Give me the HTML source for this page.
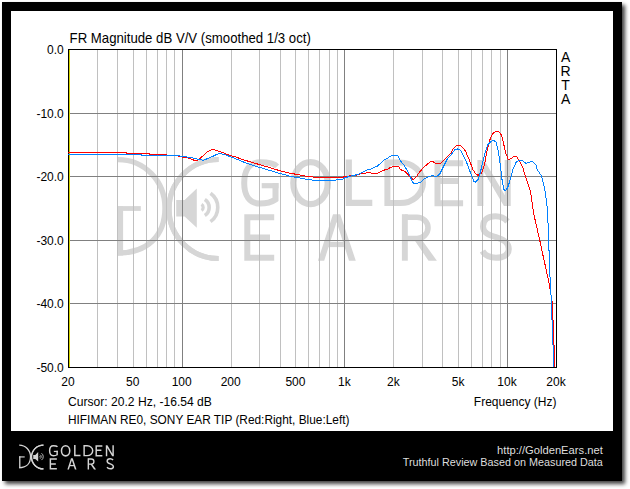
<!DOCTYPE html>
<html><head><meta charset="utf-8"><style>
html,body{margin:0;padding:0;background:#fff;width:630px;height:489px;overflow:hidden}
#frame{position:absolute;left:2px;top:2px;width:620px;height:479px;background:#000;box-shadow:3px 3px 4px rgba(0,0,0,0.75)}
svg{position:absolute;left:0;top:0}
text{font-family:"Liberation Sans",sans-serif}
</style></head><body>
<div id="frame"></div>
<svg width="630" height="489" viewBox="0 0 630 489">
<rect x="11" y="11" width="602" height="420" fill="#fff"/>
<g fill="#d6d6d6" stroke="#d6d6d6">
<g fill="none" stroke-linejoin="miter">
 <path d="M118,159.6 C144.5,159.6 165,181 165,208 C165,236 147,253 118,253" stroke-width="5.4"/>
 <path d="M218.6,159.5 A49.6,49.5 0 0 0 218.6,258.5" stroke-width="5.2"/>
 <path d="M218.6,159.5 A49.6,49.5 0 0 0 218.6,258.5" stroke-width="5.2"/>
 <path d="M383,240 L424,240" stroke-width="0"/>
 <path d="M201.5,204.4 A3.5,3.5 0 0 1 201.5,210.4" stroke-width="3.2"/>
 <path d="M204.8,199.6 A9.5,9.5 0 0 1 204.8,215.6" stroke-width="3.6"/>
 <path d="M210.5,193.2 A17.5,17.5 0 0 1 210.5,221.6" stroke-width="3.6"/>
 <path d="M277,166.5 C273.5,163 267,162.3 260,162.3 C249.5,162.3 244.2,170.5 244.2,183 C244.2,195.5 249.5,203.5 260,203.5 C266,203.5 271,202.5 275.5,199.5 L275.5,183" stroke-width="6"/>
 <path d="M261.7,185.7 L278.5,185.7" stroke-width="5.2"/>
 <ellipse cx="310.6" cy="183.1" rx="17.2" ry="21" stroke-width="6.4"/>
 <path d="M348.8,159.5 L348.8,202.8 L372.3,202.8" stroke-width="6.2"/>
 <path d="M387.4,162.5 L400,162.5 A23,20.3 0 0 1 400,203.1 L387.4,203.1 Z" stroke-width="6"/>
 <path d="M463.1,163.3 L437.5,163.3 L437.5,203.3 L463.1,203.3 M437.5,181 L459,181" stroke-width="6"/>
 <path d="M247.3,214.3 L247.3,257.7 M244.3,217.3 L274.2,217.3 M244.3,237.5 L270,237.5 M244.3,257.7 L274.2,257.7" stroke-width="6"/>
 <path d="M404.8,217.2 L417,217.2 A11,10.65 0 0 1 417,238.5 L404.8,238.5" stroke-width="5.6"/>
 <path d="M507.5,221.5 C504,217.5 500,216.3 495.5,216.3 C488,216.3 483,220 483,226.5 C483,233 489,235 496,237.2 C503,239.5 508.8,242 508.8,249 C508.8,255 503.5,257.7 496,257.7 C489,257.7 485,255.5 482.5,251" stroke-width="6"/>
</g>
<g stroke="none">
 <rect x="117.7" y="206.1" width="5.4" height="49.4"/>
 <rect x="117.7" y="206.1" width="23.1" height="4.8"/>
 <path d="M176.2,200 L184.6,200 L196.8,188.4 L196.8,227.8 L184.6,216.6 L176.2,216.6 Z"/>
 <path d="M477.4,206 L477.4,160 L484.2,160 L504.7,195 L504.7,160 L510.7,160 L510.7,206 L503.9,206 L483.4,171 L483.4,206 Z"/>
 <path d="M317.9,260.7 L333,214.2 L340.2,214.2 L355.8,260.7 L349,260.7 L336.6,222 L324.2,260.7 Z"/>
 <rect x="326" y="241.8" width="21.5" height="5.3"/>
 <rect x="401.9" y="214.2" width="5.9" height="46.5"/>
 <path d="M413,238 L420.5,238 L436.9,260.7 L428.5,260.7 Z"/>
</g>
</g>
<g shape-rendering="crispEdges">
<rect x="97" y="50" width="1" height="317" fill="#c0c0c0"/>
<rect x="117" y="50" width="1" height="317" fill="#c0c0c0"/>
<rect x="133" y="50" width="1" height="317" fill="#c0c0c0"/>
<rect x="146" y="50" width="1" height="317" fill="#c0c0c0"/>
<rect x="157" y="50" width="1" height="317" fill="#c0c0c0"/>
<rect x="166" y="50" width="1" height="317" fill="#c0c0c0"/>
<rect x="174" y="50" width="1" height="317" fill="#c0c0c0"/>
<rect x="231" y="50" width="1" height="317" fill="#c0c0c0"/>
<rect x="259" y="50" width="1" height="317" fill="#c0c0c0"/>
<rect x="280" y="50" width="1" height="317" fill="#c0c0c0"/>
<rect x="295" y="50" width="1" height="317" fill="#c0c0c0"/>
<rect x="308" y="50" width="1" height="317" fill="#c0c0c0"/>
<rect x="319" y="50" width="1" height="317" fill="#c0c0c0"/>
<rect x="329" y="50" width="1" height="317" fill="#c0c0c0"/>
<rect x="337" y="50" width="1" height="317" fill="#c0c0c0"/>
<rect x="393" y="50" width="1" height="317" fill="#c0c0c0"/>
<rect x="422" y="50" width="1" height="317" fill="#c0c0c0"/>
<rect x="442" y="50" width="1" height="317" fill="#c0c0c0"/>
<rect x="458" y="50" width="1" height="317" fill="#c0c0c0"/>
<rect x="471" y="50" width="1" height="317" fill="#c0c0c0"/>
<rect x="482" y="50" width="1" height="317" fill="#c0c0c0"/>
<rect x="491" y="50" width="1" height="317" fill="#c0c0c0"/>
<rect x="500" y="50" width="1" height="317" fill="#c0c0c0"/>
<rect x="182" y="50" width="1" height="317" fill="#808080"/>
<rect x="344" y="50" width="1" height="317" fill="#808080"/>
<rect x="507" y="50" width="1" height="317" fill="#808080"/>
<rect x="69" y="113" width="487" height="1" fill="#808080"/>
<rect x="69" y="176" width="487" height="1" fill="#808080"/>
<rect x="69" y="240" width="487" height="1" fill="#808080"/>
<rect x="69" y="303" width="487" height="1" fill="#808080"/>
<rect x="68" y="49" width="489" height="1" fill="#000"/>
<rect x="68" y="367" width="489" height="1" fill="#000"/>
<rect x="68" y="49" width="1" height="319" fill="#000"/>
<rect x="556" y="49" width="1" height="319" fill="#000"/>
</g>
<rect x="69" y="50" width="1" height="317" fill="#d4d400" shape-rendering="crispEdges"/>
<polyline points="68,152.5 126,152.5 126,153.5 149,153.5 149,154.5 166,154.5 166,155.5 178,155.5 178,156.5 184.5,157.3 189.3,158.3 194,160.2 197.4,160.2 199.3,159 202.6,156.2 207.4,151.9 209.8,150.3 213.1,149.5 216,150.3 219.8,151.6 224.5,153.3 229.3,155.2 235,156.8 246.1,160.6 257.2,163.9 268.3,167.2 279.4,170.6 290.6,173.3 301.7,175.3 307,176.4 316,177.3 343,177.3 344,176.4 349,176.4 350,175.4 355.5,175.4 358.3,174.5 361.6,173.2 365.3,173.2 367.4,172.4 370.6,172.4 371.9,173.5 377.2,173.5 379.6,172.4 382.9,170.4 387,169.4 390.7,167.3 393.6,166.4 398.5,166.4 400.5,169.5 402.6,170.5 405.1,171.7 409.2,175.8 413.3,180 416.1,177.2 418.4,173.5 423.4,167.5 426.2,165.2 429.9,162 432.6,161.4 435.4,163.4 440.9,163.1 444.6,159.4 450.7,153.3 453.2,149 456.2,145.7 460.5,145.3 465.4,150.9 469.1,159.4 472.8,169.3 475.3,173.6 478,175.4 481.7,173 484.8,163.1 487.2,149.6 490.3,138.5 492.7,133.6 496.4,131.1 499.6,132.2 501.7,135.8 503.9,145.1 506,153.7 508.2,159.4 511.1,158.7 513.9,156.3 516.8,156.8 519.7,161.6 522.5,166.6 525.4,176.6 528.3,185.2 530.7,192.4 533.5,212.9 539.7,240 543.4,257.2 546.4,270.7 549.5,285.5 552,301 553,320 554,345 555,367" fill="none" stroke="#ff0000" stroke-width="1" shape-rendering="crispEdges"/>
<polyline points="68,154.5 141,154.5 141,155.5 179.6,155.5 180.7,156.4 187.4,157 192.1,157.9 196.9,159 199.8,159.8 203.6,160.2 207.4,158.6 213.1,156.2 218.8,153.5 221.7,153.8 226.4,155.2 231.2,157.1 235,158.5 246.1,163.1 257.2,166.7 268.3,170 279.4,173.3 290.6,176.4 301.7,178.3 305,179 311.7,179.5 312.6,180.5 335.5,180.5 336.4,179.5 342.1,179.5 345,177.6 348.8,176.7 352.6,175.7 356.4,174.8 360.2,173.5 364.9,171.3 367.8,169.4 370.6,169.2 373.9,167.3 377.2,166.4 384.5,159.6 387.8,158.1 391.5,155.5 397.6,155.2 400.5,161 404.6,165.9 409.2,174.4 412.9,182.7 414.3,183.4 417.5,183.4 421.1,181.8 424.4,178.6 428.5,176.7 432.2,175.8 436.8,176.4 439.7,174.2 443.4,166.8 447,159.4 450.7,155.2 455,149.6 457.5,149 460.5,150.2 464.2,157 467.9,165.6 471.6,176 474,181.5 475.5,182.2 478.6,179.1 481.7,166.8 484.8,153.3 487.8,144.7 490.3,142.2 493.4,140.4 495.8,141.6 498.2,150.8 500.3,165.1 502,179.5 503.9,189.5 505.3,190.7 507.5,188.1 510.3,179.5 513.2,168.7 516.1,162.3 518.9,160.1 522.5,160.8 526.1,163.4 530.4,162 532.6,161.6 536,164.9 536.9,169.1 541.3,175.8 544.7,188.2 547,206.2 548.1,224.2 548.7,240 549.5,266.4 550.7,291.6 551.6,300 552,320 553,345 554,367" fill="none" stroke="#0080ff" stroke-width="1" shape-rendering="crispEdges"/>
<g fill="#000" font-size="14" transform="scale(0.943,1)">
<text x="73.81" y="43">FR Magnitude dB V/V (smoothed 1/3 oct)</text>
</g>
<g fill="#000" font-size="14" text-anchor="middle">
<text x="565.6" y="62">A</text><text x="565.6" y="76">R</text><text x="565.6" y="90">T</text><text x="565.6" y="104">A</text>
</g>
<g fill="#000" font-size="12" text-anchor="end">
<text x="63.8" y="54">0.0</text>
<text x="63.8" y="118">-10.0</text>
<text x="63.8" y="181">-20.0</text>
<text x="63.8" y="245">-30.0</text>
<text x="63.8" y="308">-40.0</text>
<text x="63.8" y="372">-50.0</text>
</g>
<g fill="#000" font-size="12" text-anchor="middle">
<text x="68" y="386">20</text>
<text x="132.7" y="386">50</text>
<text x="181.7" y="386">100</text>
<text x="230.7" y="386">200</text>
<text x="295.4" y="386">500</text>
<text x="344.4" y="386">1k</text>
<text x="393.3" y="386">2k</text>
<text x="458.1" y="386">5k</text>
<text x="507.0" y="386">10k</text>
<text x="556" y="386">20k</text>
</g>
<g fill="#000" font-size="12">
<text x="68" y="406" font-size="12.1">Cursor: 20.2 Hz, -16.54 dB</text>
<text x="68" y="424" font-size="11.86">HIFIMAN RE0, SONY EAR TIP (Red:Right, Blue:Left)</text>
<text x="556.5" y="405.6" text-anchor="end">Frequency (Hz)</text>
</g>
<g fill="#d4d4d4" stroke="#d4d4d4" transform="translate(19.2,456.4) scale(0.241) translate(-118,-206.3)">
<g fill="none" stroke-linejoin="miter">
 <path d="M118,159.6 C144.5,159.6 165,181 165,208 C165,236 147,253 118,253" stroke-width="5.4"/>
 <path d="M218.6,159.5 A49.6,49.5 0 0 0 218.6,258.5" stroke-width="5.2"/>
 <path d="M218.6,159.5 A49.6,49.5 0 0 0 218.6,258.5" stroke-width="5.2"/>
 <path d="M383,240 L424,240" stroke-width="0"/>
 <path d="M201.5,204.4 A3.5,3.5 0 0 1 201.5,210.4" stroke-width="3.2"/>
 <path d="M204.8,199.6 A9.5,9.5 0 0 1 204.8,215.6" stroke-width="3.6"/>
 <path d="M210.5,193.2 A17.5,17.5 0 0 1 210.5,221.6" stroke-width="3.6"/>
 <path d="M277,166.5 C273.5,163 267,162.3 260,162.3 C249.5,162.3 244.2,170.5 244.2,183 C244.2,195.5 249.5,203.5 260,203.5 C266,203.5 271,202.5 275.5,199.5 L275.5,183" stroke-width="6"/>
 <path d="M261.7,185.7 L278.5,185.7" stroke-width="5.2"/>
 <ellipse cx="310.6" cy="183.1" rx="17.2" ry="21" stroke-width="6.4"/>
 <path d="M348.8,159.5 L348.8,202.8 L372.3,202.8" stroke-width="6.2"/>
 <path d="M387.4,162.5 L400,162.5 A23,20.3 0 0 1 400,203.1 L387.4,203.1 Z" stroke-width="6"/>
 <path d="M463.1,163.3 L437.5,163.3 L437.5,203.3 L463.1,203.3 M437.5,181 L459,181" stroke-width="6"/>
 <path d="M247.3,214.3 L247.3,257.7 M244.3,217.3 L274.2,217.3 M244.3,237.5 L270,237.5 M244.3,257.7 L274.2,257.7" stroke-width="6"/>
 <path d="M404.8,217.2 L417,217.2 A11,10.65 0 0 1 417,238.5 L404.8,238.5" stroke-width="5.6"/>
 <path d="M507.5,221.5 C504,217.5 500,216.3 495.5,216.3 C488,216.3 483,220 483,226.5 C483,233 489,235 496,237.2 C503,239.5 508.8,242 508.8,249 C508.8,255 503.5,257.7 496,257.7 C489,257.7 485,255.5 482.5,251" stroke-width="6"/>
</g>
<g stroke="none">
 <rect x="117.7" y="206.1" width="5.4" height="49.4"/>
 <rect x="117.7" y="206.1" width="23.1" height="4.8"/>
 <path d="M176.2,200 L184.6,200 L196.8,188.4 L196.8,227.8 L184.6,216.6 L176.2,216.6 Z"/>
 <path d="M477.4,206 L477.4,160 L484.2,160 L504.7,195 L504.7,160 L510.7,160 L510.7,206 L503.9,206 L483.4,171 L483.4,206 Z"/>
 <path d="M317.9,260.7 L333,214.2 L340.2,214.2 L355.8,260.7 L349,260.7 L336.6,222 L324.2,260.7 Z"/>
 <rect x="326" y="241.8" width="21.5" height="5.3"/>
 <rect x="401.9" y="214.2" width="5.9" height="46.5"/>
 <path d="M413,238 L420.5,238 L436.9,260.7 L428.5,260.7 Z"/>
</g>
</g>
<g fill="#dedede" font-size="11" text-anchor="end">
<text x="602.8" y="453.7" font-size="11.2">http://GoldenEars.net</text>
<text x="602.8" y="466" font-size="10.8">Truthful Review Based on Measured Data</text>
</g>
</svg>
</body></html>
